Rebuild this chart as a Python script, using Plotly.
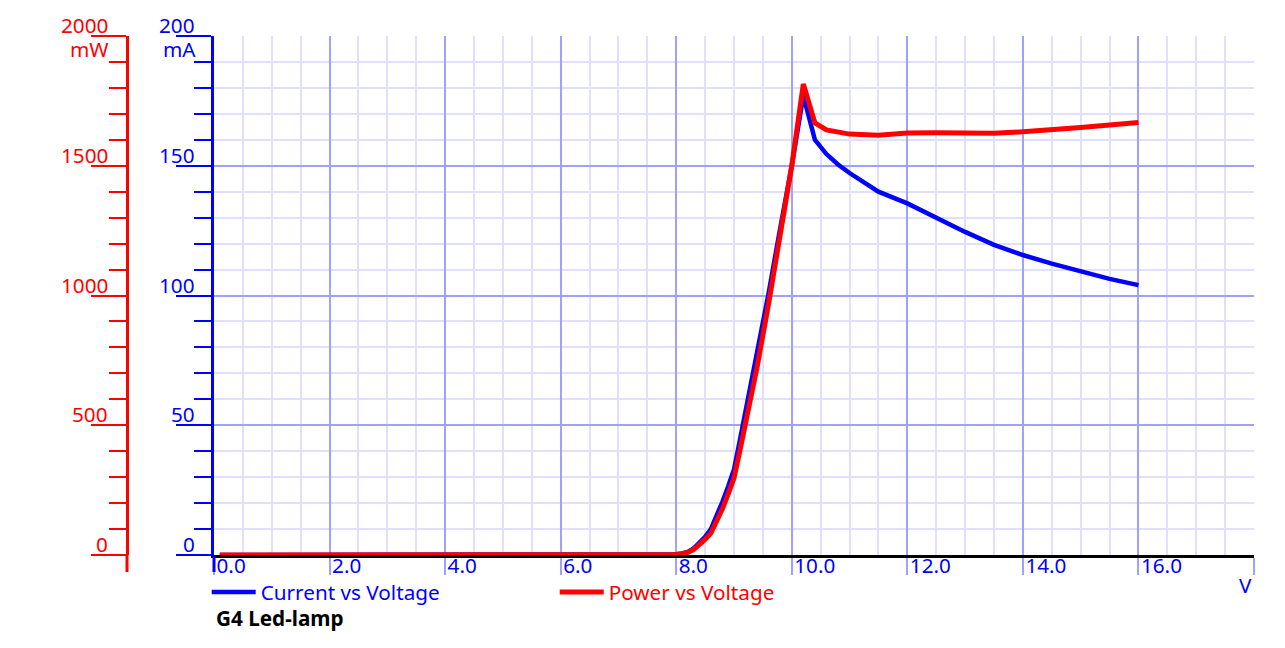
#!/usr/bin/env python3

'''
    G4 Led-lamp: current and power vs voltage
'''

import plotly.graph_objs as go

# Values
voltage = [0.1, 1.0, 2.0, 3.0, 4.0, 5.0, 6.0, 7.0, 7.5, 7.8, 7.9, 8.0, 8.1, 8.2, 8.3,
           8.4, 8.5, 8.6, 8.7, 8.8, 8.9, 9.0, 9.1, 9.2, 9.4, 9.6, 9.8, 10.0, 10.2,
           10.4, 10.6, 10.8, 11.0, 11.5, 12.0, 12.5, 13.0, 13.5, 14.0, 14.5, 15.0,
           15.5, 16.0]
current_ma = [0, 0, 0, 0, 0, 0, 0, 0, 0, 0.05, 0.12, 0.3, 0.6, 1.2, 2.5,
              4.5, 7, 10, 14.8, 20.5, 26.5, 33, 44, 55, 77, 101, 126, 150, 177,
              160, 154.5, 150.5, 147.2, 140, 135.5, 130, 124.5, 119.5, 115.6, 112.3, 109.2,
              106.4, 104]
power_mw = [0, 0, 0, 0, 0, 0, 0, 0, 0, 0.4, 1, 2, 5, 10, 21,
            38, 60, 84, 129, 178, 236, 297, 400, 506, 724, 970, 1235, 1500, 1815,
            1665, 1638, 1628, 1622, 1618, 1626, 1627, 1624, 1625, 1631, 1638, 1647,
            1657, 1667]

x_tickvals = [0, 2, 4, 6, 8, 10, 12, 14, 16, 18]
x_ticktext = ['0.0', '2.0', '4.0', '6.0', '8.0', '10.0', '12.0', '14.0', '16.0', '']
current_ticks = [0, 50, 100, 150, 200]
power_ticks = [0, 500, 1000, 1500, 2000]

blue = '#0000ff'
red = '#ff0000'
major_grid = '#a0a0ff'
minor_grid = '#e0e0fc'
font_family = 'Noto Sans'
font_size = 20.7

# pixel layout of the picture (the page body adds an 8px margin)
page_off = 8
W, H = 1285 - page_off, 648 - page_off
margin_l, margin_r, margin_t, margin_b = 32, 31, 28, 93
paper_w = W - margin_l - margin_r
paper_h = H - margin_t - margin_b


def px_x(page_x):
    return (page_x - page_off - margin_l) / paper_w


def px_y(page_y):
    # paper y from a page pixel row (0 = x axis at row 555)
    return (555 - page_y) / paper_h


plot_left = px_x(214)
red_axis_pos = px_x(127)
axis_tail = 17 / paper_h  # y axis lines run a bit below zero

current_line = go.Scatter(
    x=voltage,
    y=current_ma,
    mode='lines',
    line=dict(color=blue, width=4.5),
    name='<span style="color:%s">Current vs Voltage</span>' % blue,
    yaxis='y'
)

power_line = go.Scatter(
    x=voltage,
    y=power_mw,
    mode='lines',
    line=dict(color=red, width=5),
    name='<span style="color:%s">Power vs Voltage</span>' % red,
    yaxis='y2'
)

# y tick labels sit just above their tick, like the original plotter output
tick_labels = []
for v in current_ticks:
    tick_labels.append(dict(text=str(v), xref='paper', yref='y', x=px_x(196), y=v,
                            xanchor='right', yanchor='bottom', yshift=-4, borderpad=0,
                            showarrow=False, font=dict(color=blue, size=font_size)))
for v in power_ticks:
    tick_labels.append(dict(text=str(v), xref='paper', yref='y2', x=px_x(109), y=v,
                            xanchor='right', yanchor='bottom', yshift=-4, borderpad=0,
                            showarrow=False, font=dict(color=red, size=font_size)))

layout = go.Layout(
    width=W,
    height=H,
    margin=dict(l=margin_l, r=margin_r, t=margin_t, b=margin_b, autoexpand=False),
    font=dict(family=font_family, size=font_size),
    plot_bgcolor='#ffffff',
    paper_bgcolor='#ffffff',
    xaxis=dict(
        domain=[plot_left, 1],
        range=[0, 18],
        tickvals=x_tickvals,
        ticktext=x_ticktext,
        showgrid=True,
        gridcolor=major_grid,
        gridwidth=2,
        zeroline=False,
        showline=True,
        linecolor='#000000',
        linewidth=3,
        ticks='outside',
        ticklen=17,
        tickwidth=2,
        tickcolor=major_grid,
        tickfont=dict(color=blue, size=font_size),
        ticklabelposition='outside right',
        ticklabelstandoff=-10,
        ticklabelshift=0,
        minor=dict(dtick=0.5, showgrid=True, gridcolor=minor_grid, gridwidth=1.5),
        anchor='y',
        automargin=False
    ),
    yaxis=dict(
        range=[0, 200],
        tickvals=current_ticks,
        showticklabels=False,
        showgrid=True,
        gridcolor=major_grid,
        gridwidth=2,
        zeroline=False,
        showline=True,
        linecolor=blue,
        linewidth=3,
        ticks='outside',
        ticklen=35,
        tickwidth=2,
        tickcolor=blue,
        minor=dict(dtick=10, ticks='outside', ticklen=17, tickwidth=2, tickcolor=blue,
                   showgrid=True, gridcolor=minor_grid, gridwidth=1.5),
        anchor='x',
        automargin=False
    ),
    yaxis2=dict(
        range=[0, 2000],
        tickvals=power_ticks,
        showticklabels=False,
        overlaying='y',
        anchor='free',
        position=red_axis_pos,
        side='left',
        showgrid=False,
        zeroline=False,
        showline=True,
        linecolor=red,
        linewidth=3,
        ticks='outside',
        ticklen=35,
        tickwidth=2,
        tickcolor=red,
        minor=dict(dtick=100, ticks='outside', ticklen=17, tickwidth=2, tickcolor=red,
                   showgrid=False),
        automargin=False
    ),
    showlegend=True,
    legend=dict(
        orientation='h',
        x=plot_left - 0.006,
        xanchor='left',
        y=px_y(592),
        yanchor='middle',
        entrywidth=289,
        entrywidthmode='pixels',
        font=dict(size=font_size),
        bgcolor='rgba(0,0,0,0)',
        itemwidth=44
    ),
    shapes=[
        dict(type='line', xref='paper', yref='paper', x0=red_axis_pos, x1=red_axis_pos,
             y0=0, y1=-axis_tail, line=dict(color=red, width=3)),
        dict(type='line', xref='paper', yref='paper', x0=plot_left, x1=plot_left,
             y0=0, y1=-axis_tail, line=dict(color=blue, width=3)),
    ],
    annotations=tick_labels + [
        dict(text='<b>G4 Led-lamp</b>', xref='paper', yref='paper',
             x=plot_left, y=px_y(618),
             xanchor='left', yanchor='middle', showarrow=False,
             font=dict(color='#000000', size=font_size)),
        dict(text='V', xref='x', yref='paper', x=18, xanchor='right',
             y=px_y(585), yanchor='middle',
             showarrow=False, font=dict(color=blue, size=font_size)),
        dict(text='mA', xref='paper', yref='y', x=px_x(197), y=200,
             xanchor='right', yanchor='top', showarrow=False, yshift=2, borderpad=0,
             font=dict(color=blue, size=font_size)),
        dict(text='mW', xref='paper', yref='y2', x=px_x(110), y=2000,
             xanchor='right', yanchor='top', showarrow=False, yshift=2, borderpad=0,
             font=dict(color=red, size=font_size)),
    ]
)

fig = go.Figure(data=[current_line, power_line], layout=layout)
fig.write_html('out.html')
